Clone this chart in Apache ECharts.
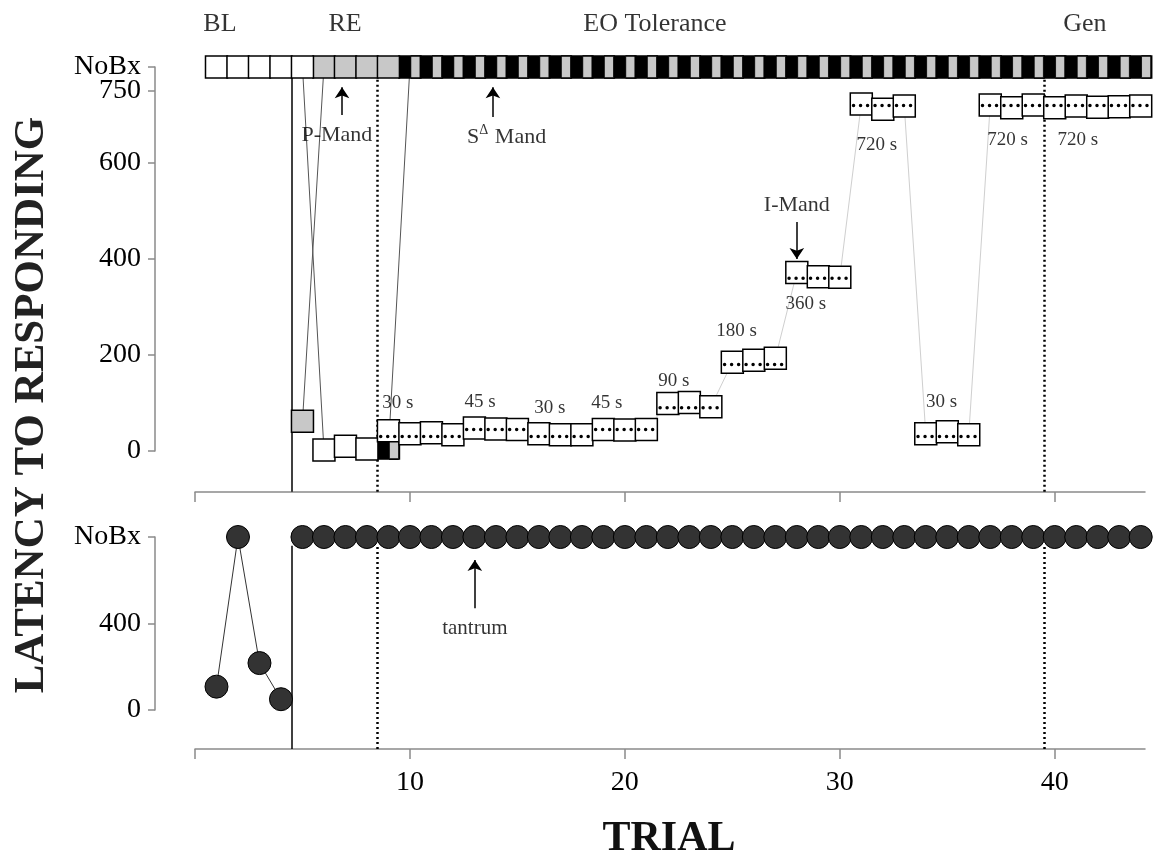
<!DOCTYPE html>
<html>
<head>
<meta charset="utf-8">
<script src="https://cdn.jsdelivr.net/npm/echarts@6/dist/echarts.min.js"></script>
<style>
  html, body { margin: 0; padding: 0; background: #fff; }
  #main { width: 1156px; height: 855px; }
</style>
</head>
<body>
<div id="main"></div>
<script>
// NoBx = no behaviour in the session, plotted above the 750 tick
const NB = 800;

// top panel: latency to responding (white squares), per trial 1..44
const whiteLatency = [NB, NB, NB, NB, NB, 2, 10, 4,
  42, 36, 38, 34, 48, 46, 45, 36, 34, 34, 45, 44, 45,
  99, 101, 92, 185, 189, 193, 372, 363, 362, 723, 712, 719,
  36, 40, 34, 721, 715, 721, 715, 719, 716, 717, 719];
// criterion (dotted line inside the square)
const criterion = [null, null, null, null, null, null, null, null,
  30, 30, 30, 30, 45, 45, 45, 30, 30, 30, 45, 45, 45,
  90, 90, 90, 180, 180, 180, 360, 360, 360, 720, 720, 720,
  30, 30, 30, 720, 720, 720, 720, 720, 720, 720, 720];
const grayFullLatency = [null, null, null, null, 62, NB, NB, NB, NB];
const blackLatency = [null, null, null, null, null, null, null, null, 6,
  NB, NB, NB, NB, NB, NB, NB, NB, NB, NB, NB, NB, NB, NB, NB, NB, NB, NB,
  NB, NB, NB, NB, NB, NB, NB, NB, NB, NB, NB, NB, NB, NB, NB, NB, NB];
const grayHalfLatency = blackLatency.slice();

// bottom panel: tantrum latency (circles)
const tantrumLatency = [108, NB, 217, 50,
  NB, NB, NB, NB, NB, NB, NB, NB, NB, NB, NB, NB, NB, NB, NB, NB, NB, NB, NB, NB,
  NB, NB, NB, NB, NB, NB, NB, NB, NB, NB, NB, NB, NB, NB, NB, NB, NB, NB, NB, NB];

// axis ticks
const topTicks = [0, 200, 400, 600, 750, 800];
const topLabels = [0, 200, 400, 600, 800];
const topExtraLabel = [750];
const bottomTicks = [0, 400, 800];
const trialTicks = [0, 10, 20, 30, 40];
const trialLabels = [10, 20, 30, 40];

// phase change lines
const phaseLines = [4.5, 8.5, 39.5];
const phaseStyles = ['solid', 'dotted', 'dotted'];
const phaseNames = ['BL', 'RE', 'EO Tolerance', 'Gen'];
const phaseLabelX = [1.16, 6.98, 21.4, 41.4];

// criterion labels [trial, latency, text]
const durationLabels = [
  [9.44, 100, '30 s'], [13.26, 102, '45 s'], [16.51, 90, '30 s'],
  [19.16, 100, '45 s'], [22.28, 146, '90 s'], [25.2, 250, '180 s'],
  [28.42, 306, '360 s'], [31.72, 637, '720 s'], [34.74, 102, '30 s'],
  [37.81, 648, '720 s'], [41.07, 648, '720 s']
];

// annotations: [trial, value, text] and arrows [[x1,y1],[x2,y2]]
const topNotes = [[6.6, 658, 'P-Mand'], [14.5, 654, 'SΔ Mand'], [28.0, 512, 'I-Mand']];
const topArrows = [[[6.84, 700], [6.84, 758]], [[13.86, 696], [13.86, 758]], [[28.0, 477], [28.0, 400]]];
const bottomNotes = [[13.02, 378, 'tantrum']];
const bottomArrows = [[[13.02, 471], [13.02, 694]]];

const FONT = '"Liberation Serif", "Times New Roman", serif';
const AXIS_GRAY = '#8a8a8a';

function pairs(arr, start) {
  return arr.map((v, i) => [i + 1 + (start || 0), v]).filter(d => d[1] != null);
}

function xAxisCfg(grid, offset, labels) {
  return {
    gridIndex: grid, type: 'value', min: 0, max: 44.2, offset: offset, position: 'bottom',
    axisLine: { show: true, onZero: false, lineStyle: { color: AXIS_GRAY, width: 1.5 } },
    axisTick: { show: true, length: 10, customValues: trialTicks, lineStyle: { color: AXIS_GRAY, width: 1.5 } },
    axisLabel: { show: labels, customValues: trialLabels, fontFamily: FONT, fontSize: 28, color: '#000', margin: 20 },
    splitLine: { show: false }
  };
}

function yAxisCfg(grid, ticks, labels, showLine) {
  return {
    gridIndex: grid, type: 'value', min: 0, max: NB, offset: 40, position: 'left',
    axisLine: { show: showLine, onZero: false, lineStyle: { color: AXIS_GRAY, width: 1.5 } },
    axisTick: { show: showLine, length: 7, customValues: ticks, lineStyle: { color: AXIS_GRAY, width: 1.5 } },
    axisLabel: {
      customValues: labels, fontFamily: FONT, fontSize: 28, color: '#000', margin: 14,
      hideOverlap: false,
      formatter: v => (v === NB ? 'NoBx' : String(v))
    },
    splitLine: { show: false }
  };
}

function phaseLineData(yLow, yHigh) {
  return phaseLines.map((x, i) => ({
    coords: [[x, yLow], [x, yHigh]],
    lineStyle: phaseStyles[i] === 'solid'
      ? { type: 'solid', width: 1.5, color: '#000', opacity: 1 }
      : { type: [2, 3], width: 2.5, color: '#000', opacity: 1 }
  }));
}

const base = { silent: true, animation: false };
const textSeries = (grid, data, size, z) => Object.assign({
  type: 'scatter', xAxisIndex: grid, yAxisIndex: grid, clip: false, z: z || 8,
  symbolSize: 1, itemStyle: { color: 'transparent' },
  data: data.map(d => ({ value: [d[0], d[1]], name: d[2] })),
  label: {
    show: true, position: 'inside', formatter: '{b}', color: '#000',
    fontFamily: FONT, fontSize: size,
    rich: {
      s: { fontFamily: FONT, fontSize: size, color: '#000' },
      d: { fontFamily: FONT, fontSize: 14, color: '#000', padding: [0, 1, 14, 0] }
    }
  }
}, base);

const squareStyle = (fill) => ({ color: fill, borderColor: '#000', borderWidth: 1.5 });

const option = {
  backgroundColor: '#fff',
  animation: false,
  grid: [
    { left: 195, right: 11, top: 67, height: 384 },
    { left: 195, right: 11, top: 537, height: 173 }
  ],
  xAxis: [xAxisCfg(0, 41, false), xAxisCfg(1, 39, true)],
  yAxis: [
    yAxisCfg(0, topTicks, topLabels, true),
    yAxisCfg(1, bottomTicks, bottomTicks, true),
    yAxisCfg(0, topExtraLabel, topExtraLabel, false)
  ],
  graphic: [
    {
      type: 'text', x: 32, y: 405, rotation: Math.PI / 2, silent: true,
      style: { text: 'LATENCY TO RESPONDING', fontFamily: FONT, fontWeight: 'bold', fontSize: 43, fill: '#222', align: 'center', verticalAlign: 'middle' }
    },
    {
      type: 'text', x: 669, y: 839, silent: true,
      style: { text: 'TRIAL', fontFamily: FONT, fontWeight: 'bold', fontSize: 42, fill: '#111', align: 'center', verticalAlign: 'middle' }
    }
  ],
  series: [
    // phase change lines
    Object.assign({ type: 'lines', coordinateSystem: 'cartesian2d', xAxisIndex: 0, yAxisIndex: 0, clip: false, z: 1,
      lineStyle: { opacity: 1 }, data: phaseLineData(-85, 777) }, base),
    Object.assign({ type: 'lines', coordinateSystem: 'cartesian2d', xAxisIndex: 1, yAxisIndex: 1, clip: false, z: 1,
      lineStyle: { opacity: 1 }, data: phaseLineData(-180, 760) }, base),

    // black squares (strip + trial 9)
    Object.assign({ type: 'line', xAxisIndex: 0, yAxisIndex: 0, clip: false, z: 3,
      data: pairs(blackLatency), symbol: 'rect', symbolSize: 22, showAllSymbol: true,
      itemStyle: squareStyle('#000'), lineStyle: { color: '#555', width: 1 } }, base),
    // gray stripes between black squares
    Object.assign({ type: 'scatter', xAxisIndex: 0, yAxisIndex: 0, clip: false, z: 4,
      data: pairs(grayHalfLatency), symbol: 'rect', symbolSize: [9, 22], symbolOffset: [5.5, 0],
      itemStyle: { color: '#c8c8c8', borderColor: '#000', borderWidth: 1, opacity: 1 } }, base),
    // gray full squares
    Object.assign({ type: 'line', xAxisIndex: 0, yAxisIndex: 0, clip: false, z: 4,
      data: pairs(grayFullLatency), symbol: 'rect', symbolSize: 22, showAllSymbol: true,
      itemStyle: squareStyle('#c8c8c8'), lineStyle: { color: '#555', width: 1 } }, base),
    // white squares, BL + RE
    Object.assign({ type: 'line', xAxisIndex: 0, yAxisIndex: 0, clip: false, z: 5,
      data: pairs(whiteLatency.slice(0, 8)), symbol: 'rect', symbolSize: 22, showAllSymbol: true,
      itemStyle: squareStyle('#fff'), lineStyle: { color: '#555', width: 1 } }, base),
    // white squares, EO + Gen
    Object.assign({ type: 'line', xAxisIndex: 0, yAxisIndex: 0, clip: false, z: 5,
      data: pairs(whiteLatency.slice(8), 8), symbol: 'rect', symbolSize: 22, showAllSymbol: true,
      itemStyle: squareStyle('#fff'), lineStyle: { color: '#cfcfcf', width: 1 } }, base),
    // criterion dotted line inside squares
    Object.assign({ type: 'custom', xAxisIndex: 0, yAxisIndex: 0, clip: false, z: 6,
      data: pairs(criterion),
      renderItem: function (params, api) {
        const x = api.value(0), c = api.value(1);
        const p1 = api.coord([x - 0.5, c]);
        const p2 = api.coord([x + 0.5, c]);
        return {
          type: 'line',
          shape: { x1: p1[0] + 3, y1: p1[1], x2: p2[0] - 1, y2: p2[1] },
          style: { stroke: '#000', lineWidth: 3.5, lineDash: [0.01, 7], lineCap: 'round', fill: null }
        };
      } }, base),

    // bottom panel circles
    Object.assign({ type: 'line', xAxisIndex: 1, yAxisIndex: 1, clip: false, z: 5,
      data: pairs(tantrumLatency.slice(0, 4)), symbol: 'circle', symbolSize: 23, showAllSymbol: true,
      itemStyle: { color: '#333', borderColor: '#000', borderWidth: 1 }, lineStyle: { color: '#333', width: 1 } }, base),
    Object.assign({ type: 'line', xAxisIndex: 1, yAxisIndex: 1, clip: false, z: 5,
      data: pairs(tantrumLatency.slice(4), 4), symbol: 'circle', symbolSize: 23, showAllSymbol: true,
      itemStyle: { color: '#333', borderColor: '#000', borderWidth: 1 }, lineStyle: { color: '#333', width: 1 } }, base),

    // arrows
    Object.assign({ type: 'lines', coordinateSystem: 'cartesian2d', xAxisIndex: 0, yAxisIndex: 0, clip: false, z: 7,
      symbol: ['none', 'arrow'], symbolSize: [0, 11],
      lineStyle: { color: '#000', width: 1.5, opacity: 1 },
      data: topArrows.map(a => ({ coords: a })) }, base),
    Object.assign({ type: 'lines', coordinateSystem: 'cartesian2d', xAxisIndex: 1, yAxisIndex: 1, clip: false, z: 7,
      symbol: ['none', 'arrow'], symbolSize: [0, 11],
      lineStyle: { color: '#000', width: 1.5, opacity: 1 },
      data: bottomArrows.map(a => ({ coords: a })) }, base),

    // texts
    textSeries(0, durationLabels, 19),
    textSeries(0, topNotes, 22),
    textSeries(0, phaseNames.map((n, i) => [phaseLabelX[i], 890, n]), 26),
    textSeries(1, bottomNotes, 21)
  ]
};

// superscript delta for the S-delta mand note
option.series[13].label.formatter = function (p) {
  return p.name === 'SΔ Mand' ? '{s|S}{d|Δ}{s| Mand}' : p.name;
};

const chart = echarts.init(document.getElementById('main'), null, { renderer: 'canvas' });
chart.setOption(option);
window.addEventListener('resize', () => chart.resize());
</script>
</body>
</html>
